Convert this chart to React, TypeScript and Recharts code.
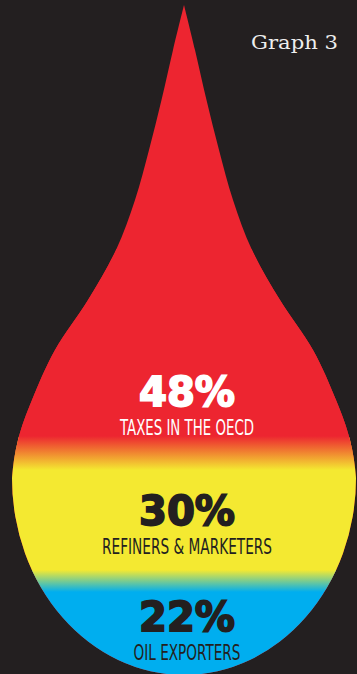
import React from 'react'
import { BarChart, Bar, XAxis, YAxis, LabelList } from 'recharts'

// Share of the price of a litre of oil, bottom band first
const categories = ['Oil price split']
const seriesKeys = ['exporters', 'refiners', 'taxes']
const seriesNames = ['OIL EXPORTERS', 'REFINERS & MARKETERS', 'TAXES IN THE OECD']
const seriesValues = [22, 30, 48]

const W = 357
const H = 674
const BG = '#231F20'
const bandColors = ['#00AEEF', '#F4E931', '#ED2530']
const textColors = [BG, BG, '#FFFFFF']
const fadeHalf = [0, 11, 17] // half-height of the soft blend under each band
const labelShift = [3, 7, 54] // nudge of each label block from its band centre
const nameWidths = [107, 170, 134]

// drop silhouette (decoration only): half widths down the right side
const CX = 184
const BULGE_Y = 478
const RX = 172
const RY = 197
const outline: [number, number][] = [
  [5, 0], [50, 11], [100, 22.5], [150, 35], [200, 49], [250, 68],
  [300, 96], [350, 129], [400, 152], [440, 166], [478, 172],
]

function dropPath() {
  const pts = outline.map(([y, w]) => [CX + w, y])
  const ext = [pts[0], ...pts, [CX + RX, BULGE_Y + 38]]
  const segs: number[][][] = []
  for (let i = 1; i < ext.length - 2; i++) {
    const p0 = ext[i - 1], p1 = ext[i], p2 = ext[i + 1], p3 = ext[i + 2]
    const c1 = [p1[0] + (p2[0] - p0[0]) / 6, p1[1] + (p2[1] - p0[1]) / 6]
    const c2 = [p2[0] - (p3[0] - p1[0]) / 6, p2[1] - (p3[1] - p1[1]) / 6]
    segs.push([p1, c1, c2, p2])
  }
  const m = (p: number[]) => `${2 * CX - p[0]},${p[1]}`
  let d = `M${pts[0][0]},${pts[0][1]}`
  segs.forEach(s => { d += ` C${s[1][0]},${s[1][1]} ${s[2][0]},${s[2][1]} ${s[3][0]},${s[3][1]}` })
  d += ` A${RX},${RY} 0 0 1 ${CX},${BULGE_Y + RY} A${RX},${RY} 0 0 1 ${CX - RX},${BULGE_Y}`
  segs.slice().reverse().forEach(s => { d += ` C${m(s[2])} ${m(s[1])} ${m(s[0])}` })
  return d + ' Z'
}

const DROP = dropPath()

const row: Record<string, string | number> = { category: categories[0] }
seriesKeys.forEach((k, i) => { row[k] = seriesValues[i] })
const data = [row]

const makeShape = (i: number) => (props: any) => {
  const { x, width } = props
  const top = Math.round(props.y)
  const bottom = Math.round(props.y + props.height)
  const f = fadeHalf[i]
  const lift = fadeHalf[i + 1] ?? 0
  return (
    <g clipPath="url(#dropClip)" shapeRendering="crispEdges">
      <rect x={x - 2} y={top - lift} width={width + 4} height={bottom - f - (top - lift)} fill={bandColors[i]} />
      {f > 0 && <rect x={x - 2} y={bottom - f} width={width + 4} height={2 * f} fill={`url(#fade${i})`} />}
    </g>
  )
}

const makeLabel = (i: number) => (props: any) => {
  const vb = props.viewBox && props.viewBox.height != null ? props.viewBox : props
  const { x, y, width, height } = vb
  const cx = x + width / 2 + 8.5
  const cy = y + height / 2 + labelShift[i]
  return (
    <g>
      <text x={cx} y={cy + 1} textAnchor="middle" fill={textColors[i]} stroke={textColors[i]} strokeWidth={1.8}
        fontFamily="'DejaVu Sans', sans-serif" fontWeight={700} fontSize={40}
        textLength={96} lengthAdjust="spacingAndGlyphs">{`${props.value}%`}</text>
      <text x={cx} y={cy + 30} textAnchor="middle" fill={textColors[i]}
        fontFamily="'Liberation Sans Narrow', 'DejaVu Sans Condensed', 'Roboto', sans-serif" fontSize={21}
        textLength={nameWidths[i]} lengthAdjust="spacingAndGlyphs">{seriesNames[i]}</text>
    </g>
  )
}

export default function App() {
  return (
    <div style={{ position: 'absolute', left: 0, top: 0, width: W, height: H, background: BG, overflow: 'hidden' }}>
      <svg width={W} height={H} style={{ position: 'absolute', left: 0, top: 0 }}>
        <defs>
          <clipPath id="dropClip">
            <path d={DROP} />
          </clipPath>
          {bandColors.map((c, i) => (
            <linearGradient key={i} id={`fade${i}`} x1="0" y1="0" x2="0" y2="1">
              <stop offset="0%" stopColor={c} stopOpacity={1} />
              <stop offset="100%" stopColor={c} stopOpacity={0} />
            </linearGradient>
          ))}
        </defs>
        <path d={DROP} fill={bandColors[2]} />
        <text x={251} y={49} fill="#EEEEEE" fontFamily="'DejaVu Serif', serif" fontSize={19}
          textLength={87} lengthAdjust="spacingAndGlyphs">Graph 3</text>
      </svg>
      <div style={{ position: 'absolute', left: 0, top: 0 }}>
        <BarChart width={W} height={H} data={data} margin={{ top: 249, right: 0, left: 0, bottom: 0 }} barCategoryGap={0}>
          <XAxis dataKey="category" hide />
          <YAxis hide domain={[0, 100]} />
          {seriesKeys.map((k, i) => (
            <Bar key={k} dataKey={k} stackId="drop" fill={bandColors[i]} isAnimationActive={false} shape={makeShape(i)}>
              <LabelList dataKey={k} content={makeLabel(i)} />
            </Bar>
          ))}
        </BarChart>
      </div>
    </div>
  )
}
